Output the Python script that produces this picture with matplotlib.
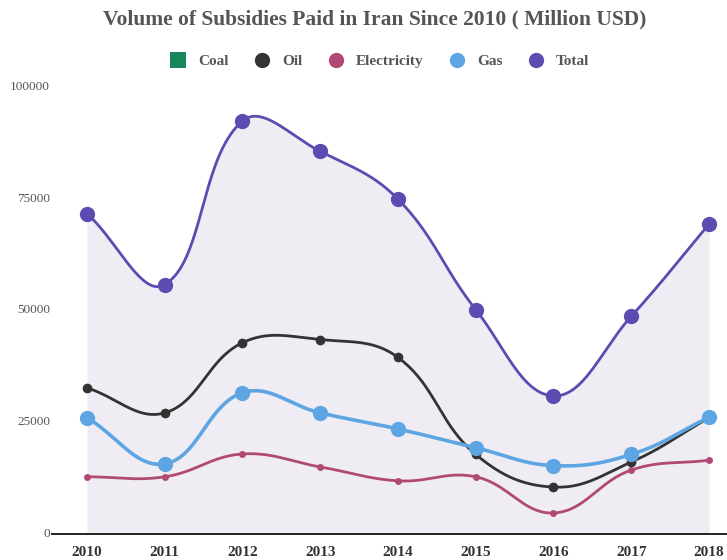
import numpy as np
import matplotlib.pyplot as plt
from matplotlib.lines import Line2D
from matplotlib import transforms

years = [2010, 2011, 2012, 2013, 2014, 2015, 2016, 2017, 2018]
total = [71700, 55800, 92400, 85600, 74900, 50200, 30900, 48700, 69300]
oil = [32700, 27100, 42800, 43500, 39500, 17800, 10500, 16100, 26000]
electricity = [12800, 12800, 17900, 15000, 11900, 12800, 4700, 14300, 16500]
gas = [26000, 15700, 31600, 27100, 23500, 19300, 15300, 17800, 26100]

series_names = ['Coal', 'Oil', 'Electricity', 'Gas', 'Total']
colors = {'Coal': '#15875a', 'Oil': '#333333', 'Electricity': '#b04a72',
          'Gas': '#5ea6e3', 'Total': '#5a4cb0'}
yticks = [0, 25000, 50000, 75000, 100000]

W, H = 727, 560
fig = plt.figure(figsize=(W / 100, H / 100), dpi=100)
left_px, right_px, bottom_px, top_px = 52, 727, 534, 87
ax = fig.add_axes([left_px / W, (H - bottom_px) / H,
                   (right_px - left_px) / W, (bottom_px - top_px) / H])
px_per_year = (709 - 87) / 8
x0 = 2010 - (87 - left_px) / px_per_year
x1 = 2010 + (right_px - 87) / px_per_year
ax.set_xlim(x0, x1)
ax.set_ylim(0, 100000)

sx = px_per_year
sy = (bottom_px - top_px) / 100000


def spline(xs, ys, tension=0.4, n=40):
    # bezier curve through the points, control points like chart.js
    p = np.column_stack([np.asarray(xs, float) * sx, np.asarray(ys, float) * sy])
    cps = []
    for i in range(len(p)):
        prev = p[max(i - 1, 0)]
        nxt = p[min(i + 1, len(p) - 1)]
        cur = p[i]
        d01 = np.hypot(*(cur - prev))
        d12 = np.hypot(*(nxt - cur))
        tot = d01 + d12 if d01 + d12 else 1
        fa = tension * d01 / tot
        fb = tension * d12 / tot
        cps.append((cur - fa * (nxt - prev), cur + fb * (nxt - prev)))
    out = [p[0]]
    t = np.linspace(0, 1, n)[1:, None]
    for i in range(len(p) - 1):
        a, b, c, d = p[i], cps[i][1], cps[i + 1][0], p[i + 1]
        seg = (1 - t) ** 3 * a + 3 * (1 - t) ** 2 * t * b + 3 * (1 - t) * t ** 2 * c + t ** 3 * d
        out.extend(seg)
    out = np.array(out)
    return out[:, 0] / sx, out[:, 1] / sy


# area under the total line
tx, ty = spline(years, total)
ax.fill_between(tx, ty, 0, color='#efedf3', zorder=1, lw=0)

styles = [
    ('Electricity', electricity, 2.0, 5),
    ('Oil', oil, 2.0, 7),
    ('Gas', gas, 2.6, 11),
    ('Total', total, 2.0, 11),
]
for name, vals, lw, ms in styles:
    cx, cy = spline(years, vals)
    ax.plot(cx, cy, color=colors[name], lw=lw, zorder=3, solid_capstyle='round')
    ax.plot(years, vals, 'o', color=colors[name], ms=ms, zorder=4, clip_on=False, mew=0)

for s in ['top', 'right', 'left']:
    ax.spines[s].set_visible(False)
ax.spines['bottom'].set_color('#222222')
ax.spines['bottom'].set_linewidth(1.4)
ax.set_yticks([])
ax.set_xticks(years)
ax.tick_params(axis='x', length=0, pad=9)
for lab in ax.get_xticklabels():
    lab.set_fontfamily('Liberation Serif')
    lab.set_fontweight('bold')
    lab.set_fontsize(11)
    lab.set_color('#333333')

# y labels sit just left of where the axis line starts
trans = transforms.blended_transform_factory(fig.transFigure, ax.transData)
for v in yticks:
    ax.text(50 / W, v, str(v), transform=trans, ha='right', va='center',
            fontfamily='Liberation Serif', fontsize=9.5, color='#555555')

fig.text(375 / W, 1 - 19 / H, 'Volume of Subsidies Paid in Iran Since 2010 ( Million USD)',
         ha='center', va='center', fontfamily='Liberation Serif', fontweight='bold',
         fontsize=15.5, color='#555555')

handles = []
for name in series_names:
    mk = 's' if name == 'Coal' else 'o'
    handles.append(Line2D([], [], ls='none', marker=mk, ms=11, color=colors[name], mew=0))
leg = fig.legend(handles, series_names, loc='center', bbox_to_anchor=(376 / W, 1 - 61 / H),
                 ncol=5, frameon=False, handletextpad=0.3, columnspacing=1.2,
                 prop={'family': 'Liberation Serif', 'weight': 'bold', 'size': 11})
for t in leg.get_texts():
    t.set_color('#555555')

fig.savefig('out.png', dpi=100, facecolor='white')
